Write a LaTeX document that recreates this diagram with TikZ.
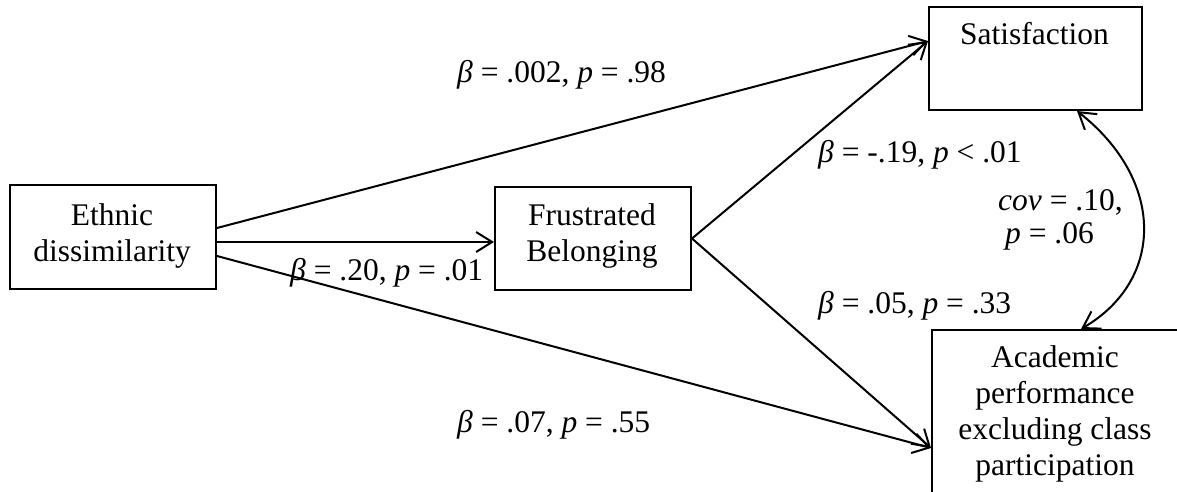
\documentclass[tikz,border=0pt]{standalone}
\usepackage{fontspec}
\setmainfont{Liberation Serif}
\usetikzlibrary{arrows.meta}
\begin{document}
\begin{tikzpicture}[x=1pt,y=-1pt,
  box/.style={draw, line width=2pt, inner sep=0pt, rectangle},
  lbl/.style={inner sep=0pt, anchor=base west, font=\fontsize{31.5}{36}\selectfont},
  txt/.style={inner sep=0pt, align=center, anchor=base, font=\fontsize{31.5}{36}\selectfont},
  tip/.tip={Straight Barb[length=16pt,width=20pt,line width=2pt]},
  arr/.style={line width=2pt, -tip},
  darr/.style={line width=2pt, tip-tip},
]
\useasboundingbox (0,0) rectangle (1177,492);
\clip (0,0) rectangle (1177,492);
\fill[white] (0,0) rectangle (1177,492);

% boxes
\node[box, minimum width=206pt, minimum height=104pt, anchor=north west] (eth) at (9,184) {};
\node[box, minimum width=196pt, minimum height=103pt, anchor=north west] (fb) at (494,186) {};
\node[box, minimum width=213pt, minimum height=103pt, anchor=north west] (sat) at (928,6) {};
\node[box, minimum width=248pt, minimum height=200pt, anchor=north west] (acad) at (931,329) {};

% box texts (base anchor = baseline of the last line)
\node[txt] (etht) at (112,261) {Ethnic\\dissimilarity};
\node[txt] (fbt) at (592,261) {Frustrated\\Belonging};
\node[txt] (satt) at (1034.5,45) {Satisfaction};
\node[txt] (acadt) at (1055,475) {Academic\\performance\\excluding class\\participation};

% paths
\draw[arr] ([yshift=9pt]eth.east) -- ([yshift=17.5pt]sat.west);
\draw[arr] ([yshift=-5pt]eth.east) -- ([yshift=-5pt]eth.east -| fb.west);
\draw[arr] ([yshift=-19pt]eth.east) -- ([yshift=-18pt]acad.west);
\draw[arr] (fb.east) -- ([yshift=17.5pt]sat.west);
\draw[arr] (fb.east) -- ([yshift=-18pt]acad.west);
\draw[darr] ([xshift=41.5pt]sat.south) .. controls (1165,180) and (1165,280) .. ([xshift=25pt]acad.north);

% labels
\node[lbl] (l1) at (457,83) {\textit{β} = .002, \textit{p} = .98};
\node[lbl] (l2) at (818,162) {\textit{β} = -.19, \textit{p} < .01};
\node[lbl] (l3) at (290,280) {\textit{β} = .20, \textit{p} = .01};
\node[lbl] (l4) at (818,313) {\textit{β} = .05, \textit{p} = .33};
\node[lbl] (l5) at (457,432) {\textit{β} = .07, \textit{p} = .55};
\node[lbl] (c1) at (998,210) {\textit{cov} = .10,};
\node[lbl] (c2) at (1005,243) {\textit{p} = .06};
\end{tikzpicture}
\end{document}
